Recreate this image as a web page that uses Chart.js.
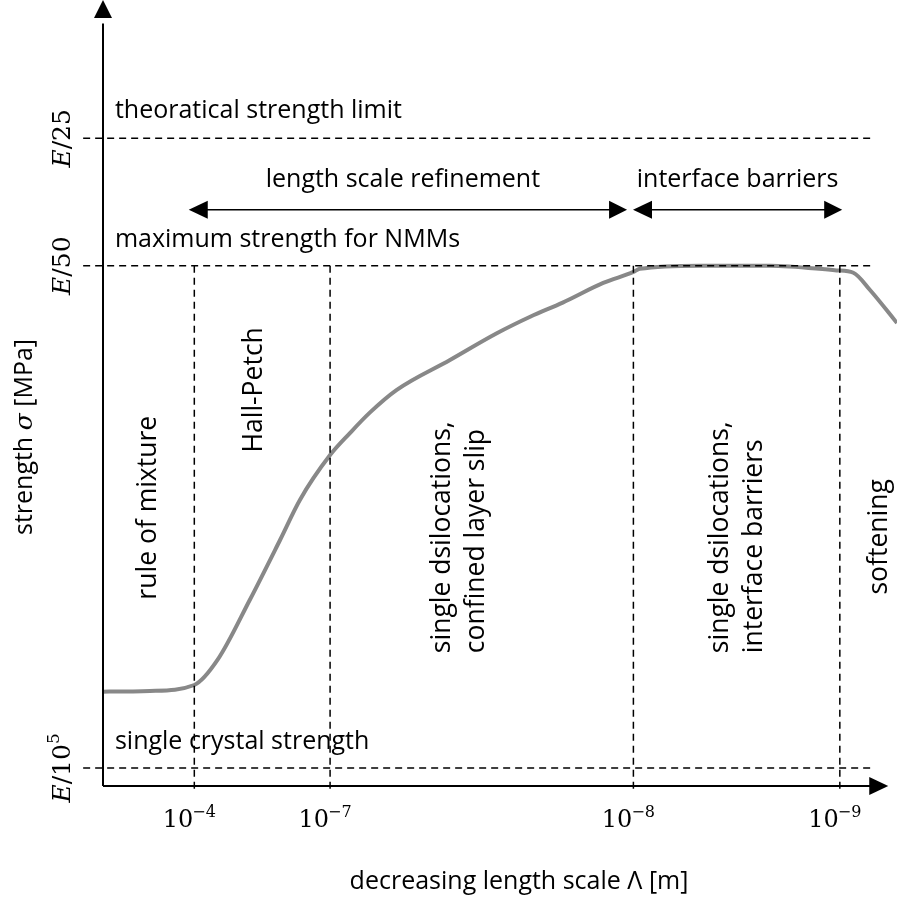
<!DOCTYPE html>
<html lang="en">
<head>
  <meta charset="UTF-8" />
  <title>Strength vs length scale</title>
  <script src="https://cdn.jsdelivr.net/npm/chart.js"></script>
  <style>
    body { margin: 0; background: #fff; }
    canvas { display: block; }
  </style>
</head>
<body>
  <canvas id="chart" width="897" height="899"></canvas>

  <script>
    // schematic units: x 0..100 along "decreasing length scale", y 0..100 strength
    const curveX = [0, 5.9, 11.5, 14.4, 18.5, 22.3, 24.8, 28.6, 31.1, 33.6, 37.0, 43.7, 49.6, 53.8, 57.9, 63.0, 66.8, 67.6, 75.2, 84.0, 92.4, 94.5, 96.6, 100];
    const curveY = [12.0, 12.1, 12.85, 16.0, 23.7, 31.3, 36.4, 42.1, 44.9, 47.5, 50.4, 54.2, 57.6, 59.7, 61.5, 64.0, 65.4, 65.8, 66.2, 66.2, 65.6, 65.3, 63.1, 58.9];

    const levelY = [2.3, 66.2, 82.4];            // E/10^5, E/50, E/25
    const levelDen = ['10', '50', '25'];
    const levelSup = ['5', '', ''];
    const levelNames = ['single crystal strength', 'maximum strength for NMMs', 'theoratical strength limit'];

    const boundaryX = [11.5, 28.6, 66.8, 92.8];  // 10^-4, 10^-7, 10^-8, 10^-9
    const boundaryExp = ['\u22124', '\u22127', '\u22128', '\u22129'];

    const rangeNames = ['length scale refinement', 'interface barriers'];
    const rangeFrom = [10.8, 66.75];
    const rangeTo = [66.0, 93.1];
    const rangeY = 73.3;

    const regimeNames = [['rule of mixture'], ['Hall-Petch'], ['single dsilocations,', 'confined layer slip'], ['single dsilocations,', 'interface barriers'], ['softening']];

    const SANS = '"Open Sans", Lato, sans-serif';
    const SERIF = '"DejaVu Serif", "Liberation Serif", serif';
    const H_FONT = '25px ' + SANS;
    const R_FONT = '26.5px ' + SANS;

    const dashed = (points, w) => ({
      data: points, borderColor: '#000', borderWidth: w || 1.5, borderDash: [7, 5],
      pointRadius: 0, fill: false, tension: 0, clip: false
    });

    const datasets = [];
    levelY.forEach(v => datasets.push(dashed([{ x: -2.5, y: v }, { x: 96.7, y: v }])));
    boundaryX.forEach(v => datasets.push(dashed([{ x: v, y: 66.2 }, { x: v, y: -0.6 }])));
    datasets.push({
      data: curveX.map((x, i) => ({ x, y: curveY[i] })),
      borderColor: '#888888', borderWidth: 4, pointRadius: 0,
      cubicInterpolationMode: 'monotone', clip: false, fill: false
    });

    function arrowHead(ctx, tx, ty, dir, len, half) {
      ctx.beginPath();
      ctx.moveTo(tx, ty);
      if (dir === 'up') { ctx.lineTo(tx - half, ty + len); ctx.lineTo(tx + half, ty + len); }
      if (dir === 'right') { ctx.lineTo(tx - len, ty - half); ctx.lineTo(tx - len, ty + half); }
      if (dir === 'left') { ctx.lineTo(tx + len, ty - half); ctx.lineTo(tx + len, ty + half); }
      ctx.closePath();
      ctx.fill();
    }

    function seg(ctx, x1, y1, x2, y2) {
      ctx.beginPath(); ctx.moveTo(x1, y1); ctx.lineTo(x2, y2); ctx.stroke();
    }

    // draw runs of [text, font, dy] side by side, centred on 0
    function runs(ctx, parts) {
      let total = 0;
      parts.forEach(p => { ctx.font = p[1]; total += ctx.measureText(p[0]).width; });
      let cx = -total / 2;
      ctx.textAlign = 'left';
      parts.forEach(p => {
        ctx.font = p[1];
        ctx.fillText(p[0], cx, p[2] || 0);
        cx += ctx.measureText(p[0]).width;
      });
    }

    const sketch = {
      id: 'sketch',
      afterDatasetsDraw(chart) {
        const { ctx, scales: { x, y } } = chart;
        const px = v => x.getPixelForValue(v);
        const py = v => y.getPixelForValue(v);
        ctx.save();
        ctx.strokeStyle = '#000';
        ctx.fillStyle = '#000';

        // axes with arrows
        ctx.lineWidth = 2;
        seg(ctx, px(0), py(0), px(0), py(97));
        arrowHead(ctx, px(0), py(100), 'up', 18, 9);
        seg(ctx, px(0), py(0), px(96.6), py(0));
        arrowHead(ctx, px(98.9), py(0), 'right', 19, 9);

        // range arrows
        ctx.lineWidth = 1.5;
        rangeFrom.forEach((f, i) => {
          const a = px(f), b = px(rangeTo[i]), yy = py(rangeY);
          seg(ctx, a + 10, yy, b - 10, yy);
          arrowHead(ctx, a, yy, 'left', 19, 9);
          arrowHead(ctx, b, yy, 'right', 18, 9);
          ctx.textAlign = 'center';
          ctx.textBaseline = 'alphabetic';
          ctx.font = H_FONT;
          ctx.fillText(rangeNames[i], (a + b) / 2 + (i === 0 ? -5 : 0), yy - 23);
        });

        // level names
        ctx.textAlign = 'left';
        ctx.textBaseline = 'alphabetic';
        ctx.font = H_FONT;
        levelY.forEach((v, i) => ctx.fillText(levelNames[i], px(1.5), py(v) - 13 - (i === 2 ? 7 : 6)));

        // level tick labels (rotated)
        ctx.textBaseline = 'middle';
        levelY.forEach((v, i) => {
          ctx.save();
          ctx.translate(63, py(v));
          ctx.rotate(-Math.PI / 2);
          const parts = [['E', 'italic 25px ' + SERIF], ['/' + levelDen[i], '25px ' + SERIF]];
          if (levelSup[i]) parts.push([levelSup[i], '17px ' + SERIF, -8]);
          runs(ctx, parts);
          ctx.restore();
        });

        // boundary tick labels
        ctx.textBaseline = 'alphabetic';
        boundaryX.forEach((v, i) => {
          const bx = px(v);
          ctx.textAlign = 'right';
          ctx.font = '24px ' + SERIF;
          ctx.fillText('10', bx - 1, 827);
          ctx.textAlign = 'left';
          ctx.font = '16px ' + SERIF;
          ctx.fillText(boundaryExp[i], bx - 2, 817);
        });

        // regime labels (rotated)
        const regimeAt = [[5.7, 35.4, 'c'], [19.1, 50.4, 'c'], [42.8, 16.9, 'l'], [77.8, 16.9, 'l'], [97.8, 31.7, 'c']];
        ctx.textBaseline = 'middle';
        regimeNames.forEach((lines, i) => {
          const [rx, ry, al] = regimeAt[i];
          lines.forEach((t, j) => {
            ctx.save();
            ctx.translate(px(rx) + j * 34, py(ry));
            ctx.rotate(-Math.PI / 2);
            ctx.textAlign = al === 'l' ? 'left' : 'center';
            ctx.font = R_FONT;
            ctx.fillText(t, 0, 0);
            ctx.restore();
          });
        });

        // axis titles
        ctx.save();
        ctx.translate(25, 437);
        ctx.rotate(-Math.PI / 2);
        ctx.textBaseline = 'middle';
        runs(ctx, [['strength ', H_FONT], ['\u03c3', 'italic 25px ' + SERIF], [' [MPa]', H_FONT]]);
        ctx.restore();

        ctx.textAlign = 'center';
        ctx.textBaseline = 'alphabetic';
        ctx.font = H_FONT;
        ctx.fillText('decreasing length scale \u039b [m]', 519, 889);

        ctx.restore();
      }
    };

    new Chart(document.getElementById('chart'), {
      type: 'line',
      data: { datasets },
      options: {
        responsive: false,
        animation: false,
        layout: { padding: { left: 103, right: 0, top: 0, bottom: 113 } },
        scales: {
          x: { type: 'linear', min: 0, max: 100, display: false },
          y: { type: 'linear', min: 0, max: 100, display: false }
        },
        plugins: { legend: { display: false }, tooltip: { enabled: false } }
      },
      plugins: [sketch]
    });
  </script>
</body>
</html>
